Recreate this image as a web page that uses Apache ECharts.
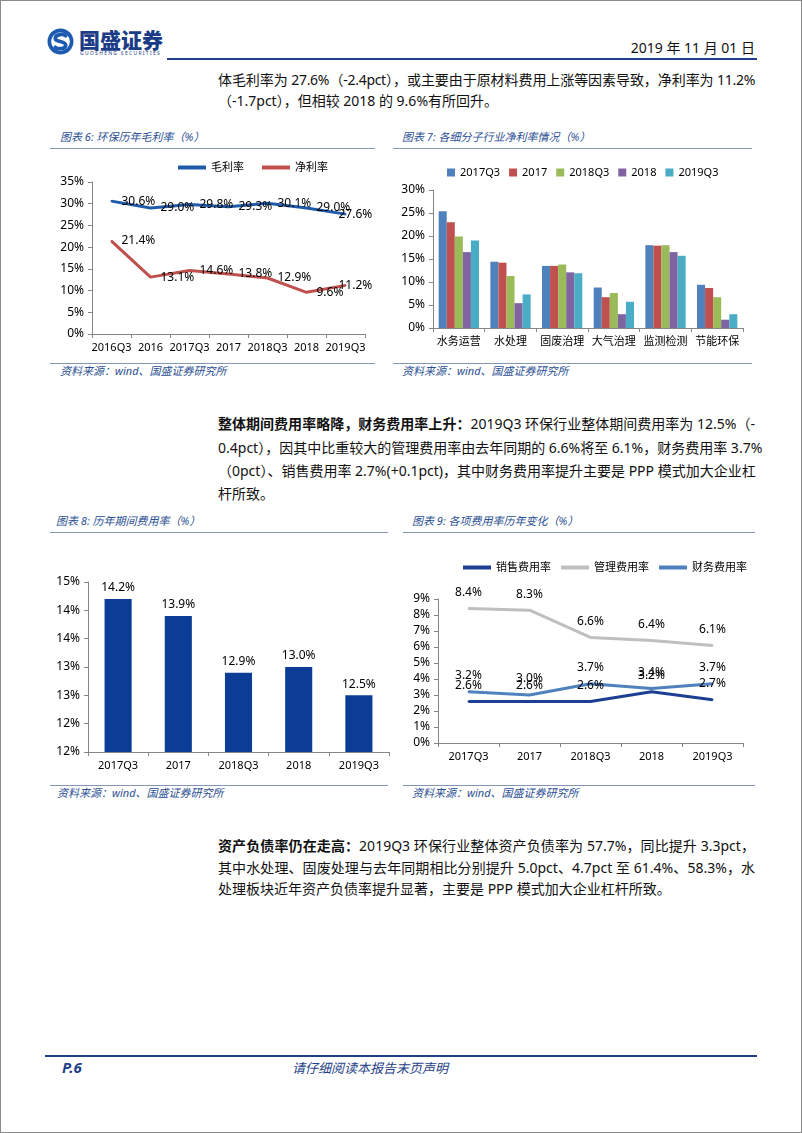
<!DOCTYPE html>
<html><head><meta charset="utf-8">
<script src="https://cdn.jsdelivr.net/npm/echarts@6/dist/echarts.min.js"></script>
<style>
html,body{margin:0;padding:0;background:#fff;}
#page{position:relative;width:802px;height:1133px;overflow:hidden;font-family:"Noto Sans","Noto Sans CJK SC",sans-serif;color:#111;background:#fff;}
#frame{position:absolute;left:0;top:0;width:802px;height:1133px;box-sizing:border-box;border:1px solid #8a8a8a;pointer-events:none;}
.abs{position:absolute;white-space:nowrap;}
.line{position:absolute;left:218px;width:537px;font-size:14px;line-height:20px;white-space:nowrap;text-align:justify;text-align-last:justify;}
.last{text-align:left;text-align-last:left;}
.ttl{position:absolute;font-size:11px;font-style:italic;color:#2B4F93;line-height:14px;white-space:nowrap;}
.sep{position:absolute;height:1px;background:#8496B4;}
.chart{position:absolute;}
b{font-weight:700;}
</style></head>
<body>
<div id="page">
  <!-- header -->
  <svg class="abs" style="left:47px;top:28px" width="27" height="27" viewBox="0 0 26 26">
    <circle cx="13" cy="13" r="12.5" fill="#1E5BB0"/>
    <circle cx="13" cy="13" r="9" fill="#fff"/>
    <path d="M18 7.5 C16 5.5 8 5.5 8 10 C8 14 18 12 18 16.5 C18 20.5 10 20.5 8 18.5" fill="none" stroke="#1E5BB0" stroke-width="3.6" stroke-linecap="round"/>
  </svg>
  <div class="abs" style="left:79px;top:27px;font-size:21px;line-height:24px;font-weight:900;color:#1B3C87;font-family:'Noto Sans CJK SC';">国盛证券</div>
  <div class="abs" style="left:80px;top:50px;font-size:5px;line-height:6px;letter-spacing:1.3px;color:#1B3C87;">GUOSHENG SECURITIES</div>
  <div class="abs" style="right:47px;top:38px;font-size:14px;line-height:20px;color:#111;">2019 年 11 月 01 日</div>
  <div class="abs" style="left:167px;top:58px;width:590px;height:2px;background:#1F3F88;"></div>

  <!-- paragraph 1 -->
  <div class="line" style="top:70px;letter-spacing:-0.3px">体毛利率为 27.6%（-2.4pct），或主要由于原材料费用上涨等因素导致，净利率为 11.2%</div>
  <div class="line last" style="top:91px">（-1.7pct），但相较 2018 的 9.6%有所回升。</div>

  <!-- chart 6 / 7 frames -->
  <div class="ttl" style="left:60px;top:130px">图表 6: 环保历年毛利率（%）</div>
  <div class="sep" style="left:50px;top:148px;width:325px"></div>
  <div class="sep" style="left:50px;top:363px;width:325px"></div>
  <div class="ttl" style="left:60px;top:364px">资料来源：wind、国盛证券研究所</div>

  <div class="ttl" style="left:402px;top:130px">图表 7: 各细分子行业净利率情况（%）</div>
  <div class="sep" style="left:393px;top:148px;width:359px"></div>
  <div class="sep" style="left:393px;top:363px;width:359px"></div>
  <div class="ttl" style="left:402px;top:364px">资料来源：wind、国盛证券研究所</div>

  <div id="c6" class="chart" style="left:50px;top:150px;width:330px;height:212px"></div>
  <div id="c7" class="chart" style="left:390px;top:150px;width:380px;height:212px"></div>

  <!-- paragraph 2 -->
  <div class="line" style="top:414px"><b>整体期间费用率略降，财务费用率上升：</b>2019Q3 环保行业整体期间费用率为 12.5%（-</div>
  <div class="line" style="top:438px">0.4pct），因其中比重较大的管理费用率由去年同期的 6.6%将至 6.1%，财务费用率 3.7%</div>
  <div class="line" style="top:461px">（0pct）、销售费用率 2.7%(+0.1pct)，其中财务费用率提升主要是 PPP 模式加大企业杠</div>
  <div class="line last" style="top:484px">杆所致。</div>

  <!-- chart 8 / 9 frames -->
  <div class="ttl" style="left:56px;top:514px">图表 8: 历年期间费用率（%）</div>
  <div class="sep" style="left:50px;top:532px;width:338px"></div>
  <div class="sep" style="left:50px;top:785px;width:338px"></div>
  <div class="ttl" style="left:57px;top:786px">资料来源：wind、国盛证券研究所</div>

  <div class="ttl" style="left:412px;top:514px">图表 9: 各项费用率历年变化（%）</div>
  <div class="sep" style="left:403px;top:532px;width:352px"></div>
  <div class="sep" style="left:403px;top:785px;width:352px"></div>
  <div class="ttl" style="left:412px;top:786px">资料来源：wind、国盛证券研究所</div>

  <div id="c8" class="chart" style="left:50px;top:535px;width:345px;height:248px"></div>
  <div id="c9" class="chart" style="left:395px;top:535px;width:380px;height:248px"></div>

  <!-- paragraph 3 -->
  <div class="line" style="top:836px"><b>资产负债率仍在走高：</b>2019Q3 环保行业整体资产负债率为 57.7%，同比提升 3.3pct，</div>
  <div class="line" style="top:858px">其中水处理、固废处理与去年同期相比分别提升 5.0pct、4.7pct 至 61.4%、58.3%，水</div>
  <div class="line last" style="top:879px">处理板块近年资产负债率提升显著，主要是 PPP 模式加大企业杠杆所致。</div>

  <!-- footer -->
  <div class="abs" style="left:45px;top:1055px;width:712px;height:2px;background:#1F3F88;"></div>
  <div class="abs" style="left:62px;top:1058px;font-size:15px;line-height:18px;font-weight:700;font-style:italic;color:#1F3F88;">P.6</div>
  <div class="abs" style="left:292px;top:1059px;font-size:13px;line-height:17px;font-style:italic;color:#1F3F88;font-family:'Noto Sans CJK SC';">请仔细阅读本报告末页声明</div>

  <div id="frame"></div>
</div>
<script>
// ---------- data ----------
const c6Cats = ['2016Q3','2016','2017Q3','2017','2018Q3','2018','2019Q3'];
const c6Gross = [30.6, 29.0, 29.8, 29.3, 30.1, 29.0, 27.6];
const c6Net   = [21.4, 13.1, 14.6, 13.8, 12.9, 9.6, 11.2];
const c6YTicks = [0, 35, 5];          // min, max, interval

const c7Cats = ['水务运营','水处理','固废治理','大气治理','监测检测','节能环保'];
const c7Names = ['2017Q3','2017','2018Q3','2018','2019Q3'];
const c7_2017Q3 = [25.4, 14.4, 13.5, 8.8, 18.0, 9.4];
const c7_2017   = [23.0, 14.2, 13.5, 6.7, 17.9, 8.7];
const c7_2018Q3 = [19.9, 11.3, 13.8, 7.6, 18.0, 6.7];
const c7_2018   = [16.5,  5.4, 12.1, 3.0, 16.5, 1.8];
const c7_2019Q3 = [19.0,  7.3, 11.9, 5.7, 15.7, 3.0];
const c7YTicks = [0, 30, 5];

const c8Cats = ['2017Q3','2017','2018Q3','2018','2019Q3'];
const c8Vals = [14.2, 13.9, 12.9, 13.0, 12.5];
const c8YTicks = [11.5, 14.5, 0.5];

const c9Cats  = ['2017Q3','2017','2018Q3','2018','2019Q3'];
const c9Sales = [2.6, 2.6, 2.6, 3.2, 2.7];
const c9Admin = [8.4, 8.3, 6.6, 6.4, 6.1];
const c9Fin   = [3.2, 3.0, 3.7, 3.4, 3.7];
const c9YTicks = [0, 9, 1];

// ---------- styles ----------
const FONT = '"Noto Sans","Noto Sans CJK SC",sans-serif';
const AX = '#868686';
const pct1 = p => Number(p.value).toFixed(1) + '%';

function catAxis(cats, fs) {
  return {
    type: 'category', data: cats, boundaryGap: true,
    axisLine: { show: true, lineStyle: { color: AX, width: 1 } },
    axisTick: { show: true, length: 4, alignWithLabel: false, lineStyle: { color: AX } },
    axisLabel: { color: '#000', fontSize: fs || 11, margin: 8, interval: 0, fontFamily: FONT },
    splitLine: { show: false }
  };
}
function valAxis(t, fmt) {
  return {
    type: 'value', min: t[0], max: t[1], interval: t[2],
    axisLine: { show: true, lineStyle: { color: AX, width: 1 } },
    axisTick: { show: true, length: 4, lineStyle: { color: AX } },
    axisLabel: { color: '#000', fontSize: 12, margin: 8, formatter: fmt, fontFamily: FONT },
    splitLine: { show: false }
  };
}
const baseGrid = (l, t, r, b) => ({ left: l, top: t, right: r, bottom: b, containLabel: false, outerBoundsMode: 'none' });

// ---------- chart 6 ----------
(function () {
  const ch = echarts.init(document.getElementById('c6'));
  const last = c6Cats.length - 1;
  const withShift = arr => arr.map((v, i) => i === last ? { value: v, label: { offset: [-17, 0] } } : v);
  const lineSeries = (name, data, color) => ({
    name, type: 'line', data: withShift(data), symbol: 'circle', symbolSize: 2, showSymbol: true,
    lineStyle: { width: 3, color }, itemStyle: { color },
    label: { show: true, position: 'right', distance: 9, fontSize: 12, color: '#000', fontFamily: FONT, formatter: pct1 },
    emphasis: { disabled: true }, z: 2
  });
  ch.setOption({
    animation: false,
    textStyle: { fontFamily: FONT },
    legend: {
      left: 123, top: 7, icon: 'rect', itemWidth: 28, itemHeight: 4, itemGap: 18,
      textStyle: { fontSize: 11, color: '#000', fontFamily: FONT },
      data: ['毛利率', '净利率']
    },
    grid: baseGrid(42, 32, 15, 28),
    xAxis: catAxis(c6Cats, 11),
    yAxis: valAxis(c6YTicks, '{value}%'),
    series: [lineSeries('毛利率', c6Gross, '#1F5BA8'), lineSeries('净利率', c6Net, '#C0504D')]
  });
})();

// ---------- chart 7 ----------
(function () {
  const ch = echarts.init(document.getElementById('c7'));
  const colors = ['#4F81BD', '#C0504D', '#9BBB59', '#8064A2', '#4BACC6'];
  const sets = [c7_2017Q3, c7_2017, c7_2018Q3, c7_2018, c7_2019Q3];
  ch.setOption({
    animation: false,
    textStyle: { fontFamily: FONT },
    legend: {
      left: 52, top: 12, icon: 'rect', itemWidth: 8, itemHeight: 8, itemGap: 9,
      textStyle: { fontSize: 11, color: '#000', fontFamily: FONT },
      data: c7Names
    },
    grid: baseGrid(43, 40, 27, 34),
    xAxis: catAxis(c7Cats, 11),
    yAxis: valAxis(c7YTicks, '{value}%'),
    series: sets.map((d, i) => ({
      name: c7Names[i], type: 'bar', data: d, barGap: '0%', barCategoryGap: '22%',
      itemStyle: { color: colors[i] }, emphasis: { disabled: true }
    }))
  });
})();

// ---------- chart 8 ----------
(function () {
  const ch = echarts.init(document.getElementById('c8'));
  ch.setOption({
    animation: false,
    textStyle: { fontFamily: FONT },
    grid: baseGrid(38, 47, 6, 31),
    xAxis: catAxis(c8Cats, 11),
    yAxis: valAxis(c8YTicks, v => Math.round(v) + '%'),
    series: [{
      type: 'bar', data: c8Vals, barWidth: '45%', clip: true,
      itemStyle: { color: '#0B3D96' },
      label: { show: true, position: 'top', distance: 5, fontSize: 12, color: '#000', fontFamily: FONT, formatter: pct1 },
      emphasis: { disabled: true }
    }]
  });
})();

// ---------- chart 9 ----------
(function () {
  const ch = echarts.init(document.getElementById('c9'));
  const lineSeries = (name, data, color) => ({
    name, type: 'line', data, symbol: 'circle', symbolSize: 2, showSymbol: true,
    lineStyle: { width: 3, color }, itemStyle: { color },
    label: { show: true, position: 'top', distance: 9, fontSize: 12, color: '#000', fontFamily: FONT, formatter: pct1 },
    emphasis: { disabled: true }
  });
  ch.setOption({
    animation: false,
    textStyle: { fontFamily: FONT },
    legend: {
      left: 63, top: 22, icon: 'rect', itemWidth: 28, itemHeight: 4, itemGap: 10,
      textStyle: { fontSize: 11, color: '#000', fontFamily: FONT },
      data: ['销售费用率', '管理费用率', '财务费用率']
    },
    grid: baseGrid(43, 64, 32, 40),
    xAxis: catAxis(c9Cats, 11),
    yAxis: valAxis(c9YTicks, '{value}%'),
    series: [
      lineSeries('销售费用率', c9Sales, '#1C3F94'),
      lineSeries('管理费用率', c9Admin, '#BFBFBF'),
      lineSeries('财务费用率', c9Fin, '#4F81BD')
    ]
  });
})();
</script>
</body></html>
